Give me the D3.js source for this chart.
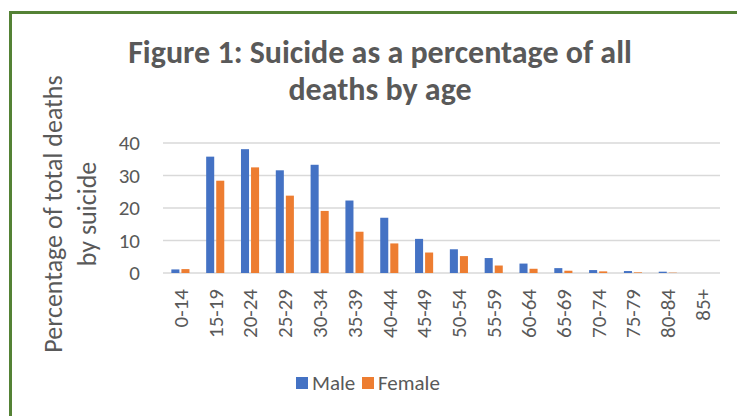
<!DOCTYPE html>
<html>
<head>
<meta charset="utf-8">
<script src="https://cdn.jsdelivr.net/npm/d3@7"></script>
<style>
  html, body { margin: 0; padding: 0; background: #fff; }
  svg { display: block; }
  text { font-family: Carlito, Calibri, Lato, sans-serif; fill: #595959; }
</style>
</head>
<body>
<svg id="chart" width="737" height="416"></svg>
<script>
// Age groups and suicide share of all deaths (%)
const ageGroups = ["0-14","15-19","20-24","25-29","30-34","35-39","40-44","45-49",
                   "50-54","55-59","60-64","65-69","70-74","75-79","80-84","85+"];
const seriesNames = ["Male", "Female"];
const maleValues   = [1.1, 35.8, 38.1, 31.6, 33.3, 22.3, 17.0, 10.5, 7.3, 4.6, 2.9, 1.5, 0.9, 0.6, 0.4, 0];
const femaleValues = [1.2, 28.4, 32.5, 23.8, 19.1, 12.7, 9.1, 6.3, 5.2, 2.3, 1.3, 0.7, 0.5, 0.2, 0.1, 0];
const yTicks = [0, 10, 20, 30, 40];
const titleLines = ["Figure 1: Suicide as a percentage of all", "deaths by age"];
const yTitleLines = ["Percentage of total deaths", "by suicide"];
const colors = { Male: "#4472C4", Female: "#ED7D31" };

const svg = d3.select("#chart");

// frame
svg.append("line").attr("x1", 9).attr("x2", 737).attr("y1", 12.5).attr("y2", 12.5)
  .attr("stroke", "#548235").attr("stroke-width", 3);
svg.append("line").attr("x1", 10.5).attr("x2", 10.5).attr("y1", 11).attr("y2", 416)
  .attr("stroke", "#548235").attr("stroke-width", 3);

const plot = { left: 163, right: 720, top: 143, bottom: 273 };

const x0 = d3.scaleBand().domain(ageGroups)
  .range([plot.left, plot.right]).paddingInner(0.48).paddingOuter(0.24);
const x1 = d3.scaleBand().domain(seriesNames)
  .range([0, x0.bandwidth()]).paddingInner(0.2).paddingOuter(0);
const y = d3.scaleLinear().domain([0, 40]).range([plot.bottom, plot.top]);

// title
svg.append("g").selectAll("text").data(titleLines).join("text")
  .attr("x", 380).attr("y", (d, i) => 63 + i * 37)
  .attr("text-anchor", "middle")
  .style("font-size", "32px").style("font-weight", "bold")
  .text(d => d);

// gridlines
svg.append("g").selectAll("line").data(yTicks).join("line")
  .attr("x1", plot.left).attr("x2", plot.right)
  .attr("y1", d => y(d)).attr("y2", d => y(d))
  .attr("stroke", "#d9d9d9").attr("stroke-width", 1.5);

// y axis tick labels
const yAxis = d3.axisLeft(y).tickValues(yTicks).tickSize(0).tickPadding(0);
const gy = svg.append("g").attr("transform", `translate(${plot.left - 23},0)`).call(yAxis);
gy.select(".domain").remove();
gy.selectAll("text").style("font-size", "21px").attr("fill", "#595959");

// y title
svg.append("g").selectAll("text").data(yTitleLines).join("text")
  .attr("transform", (d, i) => `translate(${62 + i * 34},214) rotate(-90)`)
  .attr("text-anchor", "middle")
  .style("font-size", "26px")
  .text(d => d);

// bars
const groups = svg.append("g").selectAll("g").data(ageGroups).join("g")
  .attr("transform", d => `translate(${x0(d)},0)`);
groups.selectAll("rect")
  .data((d, i) => [{ s: "Male", v: maleValues[i] }, { s: "Female", v: femaleValues[i] }])
  .join("rect")
  .attr("x", d => x1(d.s))
  .attr("width", x1.bandwidth())
  .attr("y", d => y(d.v))
  .attr("height", d => y(0) - y(d.v))
  .attr("fill", d => colors[d.s]);

// x axis category labels
const xAxis = d3.axisBottom(x0).tickSize(0).tickPadding(0);
const gx = svg.append("g").attr("transform", `translate(0,${plot.bottom})`).call(xAxis);
gx.select(".domain").remove();
gx.selectAll("text")
  .style("font-size", "21px").attr("fill", "#595959")
  .attr("text-anchor", "end")
  .attr("transform", "translate(0,16) rotate(-90)")
  .attr("x", 0).attr("y", 0).attr("dy", "0.35em");

// legend
const legend = svg.append("g").attr("transform", "translate(296,383)");
const items = legend.selectAll("g").data(seriesNames).join("g")
  .attr("transform", (d, i) => `translate(${i * 66},0)`);
items.append("rect").attr("x", 0).attr("y", -6).attr("width", 12).attr("height", 12)
  .attr("fill", d => colors[d]);
items.append("text").attr("x", 16).attr("y", 0).attr("dy", "0.35em")
  .style("font-size", "21px").text(d => d);
</script>
</body>
</html>
